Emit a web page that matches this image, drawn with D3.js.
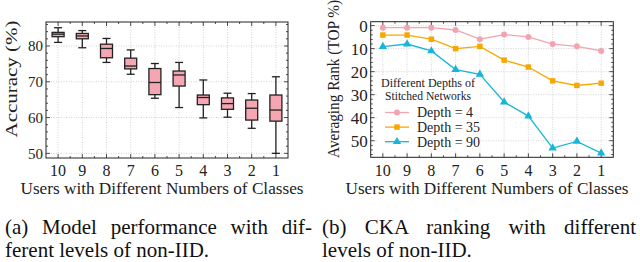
<!DOCTYPE html>
<meta charset="utf-8">
<html>
<body style="margin:0">
<script src="https://d3js.org/d3.v7.min.js"></script>
<div id="my_dataviz"></div>
<script>

// categories on the x axis (same for both panels)
var classes = ["10", "9", "8", "7", "6", "5", "4", "3", "2", "1"];

// (a) box plot of accuracy (%)
var accMin = [81.0, 79.5, 75.4, 72.1, 65.4, 62.8, 59.9, 60.1, 57.0, 50.0];
var accQ1  = [82.6, 82.0, 76.7, 73.6, 66.4, 68.8, 63.6, 62.3, 59.3, 59.0];
var accMed = [83.3, 82.8, 79.3, 74.4, 69.8, 71.9, 65.6, 63.9, 62.6, 62.1];
var accQ3  = [83.8, 83.5, 80.5, 76.6, 73.7, 73.0, 66.3, 65.5, 64.9, 66.3];
var accMax = [85.1, 84.3, 82.1, 78.9, 75.1, 75.4, 70.5, 66.8, 66.7, 71.4];
var accTicks = [50, 60, 70, 80];

// (b) averaging rank (TOP %)
var depth4  = [0.9, 0.9, 0.9, 1.9, 5.9, 3.9, 4.9, 8.0, 9.0, 11.0];
var depth35 = [4.1, 4.1, 5.9, 10.0, 9.0, 15.0, 18.0, 24.0, 26.0, 25.0];
var depth90 = [9.1, 8.0, 11.0, 19.1, 21.2, 33.2, 39.3, 53.2, 50.3, 55.4];
var rankTicks = [0, 10, 20, 30, 40, 50];
var seriesNames = ["Depth = 4", "Depth = 35", "Depth = 90"];

var ink = "#222";

var svg = d3.select("#my_dataviz")
  .append("svg")
    .attr("width", 640)
    .attr("height", 262)
    .style("display", "block");

// every label goes through here so the serif face is always set
function label(g, txt, size) {
  return g.append("text")
    .style("font-family", "Liberation Serif")
    .style("font-size", size + "px")
    .attr("fill", ink)
    .text(txt);
}

// draws frame, grid, minor ticks and tick labels for one panel
function drawFrame(g, x, y, ticks, minorStep, yFont, yLabel, yLabelX, yLabelLen) {
  var x0 = x.range()[0], x1 = x.range()[1];
  var yr = y.range(), yTop = Math.min(yr[0], yr[1]), yBot = Math.max(yr[0], yr[1]);
  var dom = y.domain(), lo = Math.min(dom[0], dom[1]), hi = Math.max(dom[0], dom[1]);

  // dotted grid
  g.selectAll(".vgrid").data(classes).enter().append("line")
    .attr("x1", function(d){ return x(d); }).attr("x2", function(d){ return x(d); })
    .attr("y1", yTop).attr("y2", yBot)
    .attr("stroke", "#c8c8c8").attr("stroke-width", 0.8).attr("stroke-dasharray", "1,1.5");
  g.selectAll(".hgrid").data(ticks).enter().append("line")
    .attr("x1", x0).attr("x2", x1)
    .attr("y1", function(d){ return y(d); }).attr("y2", function(d){ return y(d); })
    .attr("stroke", "#c8c8c8").attr("stroke-width", 0.8).attr("stroke-dasharray", "1,1.5");

  // minor ticks on left/right
  var minors = d3.range(Math.ceil(lo / minorStep) * minorStep, hi, minorStep)
    .filter(function(v){ return ticks.indexOf(v) < 0; });
  [x0, x1].forEach(function(xx, i) {
    var dir = i == 0 ? 1 : -1;
    g.selectAll(".minor" + i).data(minors).enter().append("line")
      .attr("x1", xx).attr("x2", xx + dir * 2)
      .attr("y1", function(d){ return y(d); }).attr("y2", function(d){ return y(d); })
      .attr("stroke", ink).attr("stroke-width", 0.8);
    g.selectAll(".major" + i).data(ticks).enter().append("line")
      .attr("x1", xx).attr("x2", xx + dir * 4)
      .attr("y1", function(d){ return y(d); }).attr("y2", function(d){ return y(d); })
      .attr("stroke", ink).attr("stroke-width", 0.8);
  });
  // ticks on top/bottom
  [yTop, yBot].forEach(function(yy, i) {
    var dir = i == 0 ? 1 : -1;
    g.selectAll(".xt" + i).data(classes).enter().append("line")
      .attr("x1", function(d){ return x(d); }).attr("x2", function(d){ return x(d); })
      .attr("y1", yy).attr("y2", yy + dir * 4)
      .attr("stroke", ink).attr("stroke-width", 0.8);
    var half = classes.slice(1).map(function(d, j){ return (x(classes[j]) + x(d)) / 2; });
    g.selectAll(".xm" + i).data(half).enter().append("line")
      .attr("x1", function(d){ return d; }).attr("x2", function(d){ return d; })
      .attr("y1", yy).attr("y2", yy + dir * 2)
      .attr("stroke", ink).attr("stroke-width", 0.8);
  });

  g.append("rect")
    .attr("x", x0).attr("y", yTop).attr("width", x1 - x0).attr("height", yBot - yTop)
    .attr("fill", "none").attr("stroke", ink).attr("stroke-width", 1);

  // tick labels
  ticks.forEach(function(d) {
    label(g, d, yFont).attr("x", x0 - 3).attr("y", y(d))
      .attr("dy", "0.35em").attr("text-anchor", "end");
  });
  classes.forEach(function(d) {
    label(g, d, 16).attr("x", x(d)).attr("y", 176).attr("text-anchor", "middle");
  });

  // axis titles
  label(g, "Users with Different Numbers of Classes", 16)
    .attr("x", (x0 + x1) / 2 - 5).attr("y", 194)
    .attr("text-anchor", "middle")
    .attr("textLength", 283).attr("lengthAdjust", "spacingAndGlyphs");
  label(g, yLabel, 17)
    .attr("transform", "translate(" + yLabelX + ",79) rotate(-90)")
    .attr("text-anchor", "middle")
    .attr("textLength", yLabelLen).attr("lengthAdjust", "spacingAndGlyphs");
}

// ---------- (a) box plot ----------
var ga = svg.append("g");
var xa = d3.scalePoint().domain(classes).range([46, 288]).padding(0.5);
var ya = d3.scaleLinear().domain([48.7, 86.7]).range([158, 22]);
drawFrame(ga, xa, ya, accTicks, 2, 15, "Accuracy (%)", 17, 117);

var boxes = classes.map(function(c, i) {
  return {c: c, lo: accMin[i], q1: accQ1[i], med: accMed[i], q3: accQ3[i], hi: accMax[i]};
});
var bw = 12, cw = 8;
var bg = ga.selectAll(".box").data(boxes).enter().append("g");
bg.append("line")
  .attr("x1", function(d){ return xa(d.c); }).attr("x2", function(d){ return xa(d.c); })
  .attr("y1", function(d){ return ya(d.hi); }).attr("y2", function(d){ return ya(d.lo); })
  .attr("stroke", ink).attr("stroke-width", 1.3);
bg.append("line")
  .attr("x1", function(d){ return xa(d.c) - cw / 2; }).attr("x2", function(d){ return xa(d.c) + cw / 2; })
  .attr("y1", function(d){ return ya(d.hi); }).attr("y2", function(d){ return ya(d.hi); })
  .attr("stroke", ink).attr("stroke-width", 1.3);
bg.append("line")
  .attr("x1", function(d){ return xa(d.c) - cw / 2; }).attr("x2", function(d){ return xa(d.c) + cw / 2; })
  .attr("y1", function(d){ return ya(d.lo); }).attr("y2", function(d){ return ya(d.lo); })
  .attr("stroke", ink).attr("stroke-width", 1.3);
bg.append("rect")
  .attr("x", function(d){ return xa(d.c) - bw / 2; }).attr("width", bw)
  .attr("y", function(d){ return ya(d.q3); })
  .attr("height", function(d){ return ya(d.q1) - ya(d.q3); })
  .attr("fill", "#f4a7b3").attr("stroke", ink).attr("stroke-width", 1.3);
bg.append("line")
  .attr("x1", function(d){ return xa(d.c) - bw / 2; }).attr("x2", function(d){ return xa(d.c) + bw / 2; })
  .attr("y1", function(d){ return ya(d.med); }).attr("y2", function(d){ return ya(d.med); })
  .attr("stroke", ink).attr("stroke-width", 1.3);

// ---------- (b) rank lines ----------
var gb = svg.append("g");
var xb = d3.scalePoint().domain(classes).range([370.7, 613.3]).padding(0.5);
var yb = d3.scaleLinear().domain([-1.7, 57.2]).range([21.7, 157.3]);
drawFrame(gb, xb, yb, rankTicks, 2, 17, "Averaging Rank (TOP %)", 339, 158);

var colors = ["#f4a3b1", "#f7a800", "#17b6d8"];
var series = [depth4, depth35, depth90];
var line = d3.line()
  .x(function(d, i){ return xb(classes[i]); })
  .y(function(d){ return yb(d); });
var symbols = [d3.symbolCircle, d3.symbolSquare, d3.symbolTriangle];
var symSize = [28, 30, 30];

// legend box (white, no border) sits below the curves
var lg = gb.append("g");
lg.append("rect").attr("x", 378).attr("y", 77).attr("width", 102).attr("height", 73).attr("fill", "white");

series.forEach(function(s, k) {
  gb.append("path").datum(s)
    .attr("d", line).attr("fill", "none")
    .attr("stroke", colors[k]).attr("stroke-width", 1.3);
  gb.selectAll(".pt" + k).data(s).enter().append("path")
    .attr("transform", function(d, i){ return "translate(" + xb(classes[i]) + "," + yb(d) + ")"; })
    .attr("d", d3.symbol().type(symbols[k]).size(symSize[k]))
    .attr("fill", colors[k]);
});

label(lg, "Different Depths of", 12).attr("x", 428).attr("y", 87).attr("text-anchor", "middle")
  .attr("textLength", 94).attr("lengthAdjust", "spacingAndGlyphs");
label(lg, "Stitched Networks", 12).attr("x", 428).attr("y", 99.5).attr("text-anchor", "middle")
  .attr("textLength", 86).attr("lengthAdjust", "spacingAndGlyphs");
seriesNames.forEach(function(n, k) {
  var yy = 112.5 + k * 14.6;
  lg.append("line").attr("x1", 385).attr("x2", 409).attr("y1", yy).attr("y2", yy)
    .attr("stroke", colors[k]).attr("stroke-width", 1.3);
  lg.append("path").attr("transform", "translate(397," + yy + ")")
    .attr("d", d3.symbol().type(symbols[k]).size(symSize[k])).attr("fill", colors[k]);
  label(lg, n, 14).attr("x", 417).attr("y", yy).attr("dy", "0.35em");
});

// ---------- captions ----------
function caption(x, y, width, text, justify) {
  var t = label(svg, text, 21).attr("x", x).attr("y", y).attr("fill", "#111");
  if (justify) {
    var natural = t.node().getComputedTextLength();
    var gaps = text.split(" ").length - 1;
    t.attr("word-spacing", ((width - natural) / gaps) + "px");
  }
}
caption(5, 234, 307, "(a) Model performance with dif-", true);
caption(5, 257, 0, "ferent levels of non-IID.", false);
caption(322, 234, 314, "(b) CKA ranking with different", true);
caption(322, 257, 0, "levels of non-IID.", false);

</script>
</body>
</html>
